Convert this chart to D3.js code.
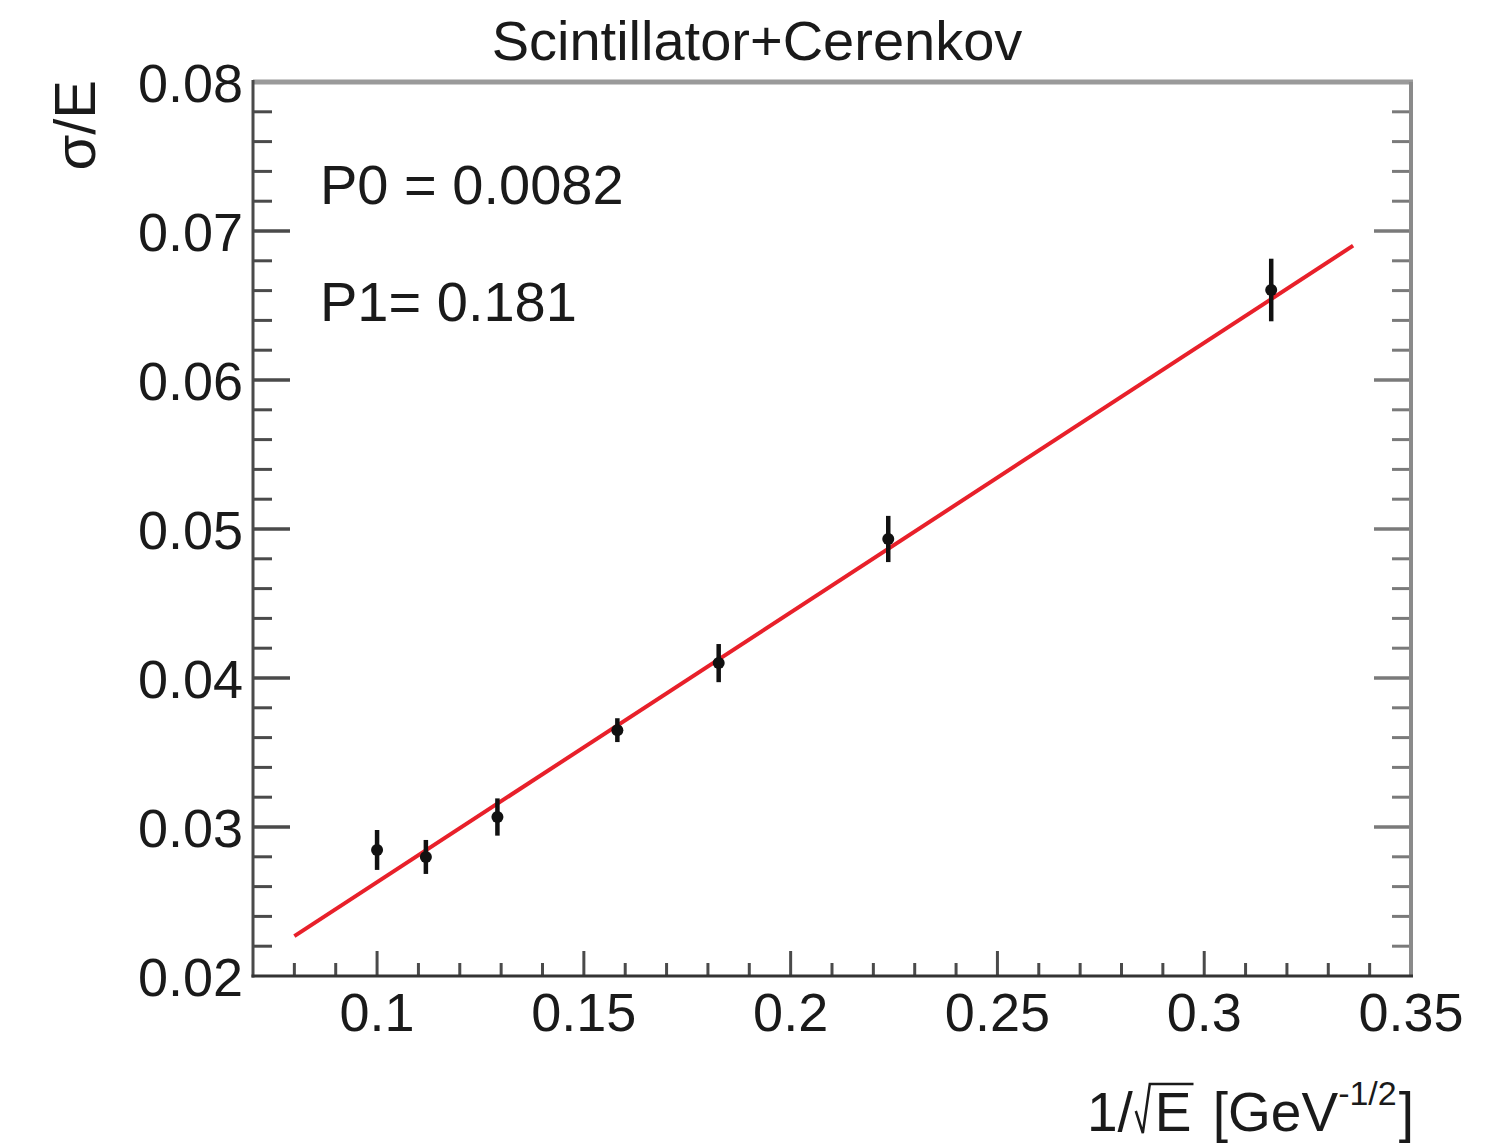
<!DOCTYPE html>
<html>
<head>
<meta charset="utf-8">
<script src="https://cdn.jsdelivr.net/npm/d3@7"></script>
<style>
  html, body { margin: 0; padding: 0; background: #fff; }
  svg { display: block; }
  text { font-family: "Liberation Sans", Arial, Helvetica, sans-serif; fill: #1a1a1a; }
</style>
</head>
<body>
<svg id="chart" width="1511" height="1147"></svg>
<script>
// ---- data ----
const energiesGeV = [100, 80, 60, 40, 30, 20, 10];
const xValues = [0.1000, 0.1118, 0.1291, 0.1581, 0.1826, 0.2236, 0.3162];   // 1/sqrt(E)
const yValues = [0.02846, 0.02799, 0.03067, 0.03650, 0.04100, 0.04933, 0.06604];
const yErrors = [0.00134, 0.00114, 0.00125, 0.00080, 0.00128, 0.00155, 0.00210];
const fitP0 = 0.0082;
const fitP1 = 0.181;
const fitRange = [0.08, 0.336];
const xMajorTicks = [0.1, 0.15, 0.2, 0.25, 0.3, 0.35];
const yMajorTicks = [0.02, 0.03, 0.04, 0.05, 0.06, 0.07, 0.08];
const titleText = "Scintillator+Cerenkov";
const paramLabels = ["P0 = 0.0082", "P1= 0.181"];

// ---- layout ----
const L = 253, R = 1411, T = 82, B = 976;
const svg = d3.select("#chart");
const x = d3.scaleLinear().domain([0.07, 0.35]).range([L, R]);
const y = d3.scaleLinear().domain([0.02, 0.08]).range([B, T]);

const axisColor = "#4a4a4a";

// minor ticks
const xMinor = d3.range(0, 29).map(i => +(0.07 + i * 0.01).toFixed(3)).filter(v => v > 0.07 && v <= 0.35);
const yMinor = d3.range(0, 31).map(i => +(0.02 + i * 0.002).toFixed(4)).filter(v => v > 0.02 && v < 0.08);

// X axis ticks (bottom, inward)
const gx = svg.append("g");
gx.selectAll("line.minor").data(xMinor).join("line")
  .attr("x1", d => x(d)).attr("x2", d => x(d))
  .attr("y1", B).attr("y2", d => B - (xMajorTicks.some(m => Math.abs(m - d) < 1e-6) ? 25 : 13))
  .attr("stroke", axisColor).attr("stroke-width", 3);

// Y axis ticks (left and right, inward)
const isYMajor = d => yMajorTicks.some(m => Math.abs(m - d) < 1e-6);
const yAll = yMinor.concat(yMajorTicks.filter(v => v > 0.02 && v < 0.08));
svg.append("g").selectAll("line").data(yAll).join("line")
  .attr("x1", L).attr("x2", d => L + (isYMajor(d) ? 37 : 19))
  .attr("y1", d => y(d)).attr("y2", d => y(d))
  .attr("stroke", axisColor).attr("stroke-width", 3);
svg.append("g").selectAll("line").data(yAll).join("line")
  .attr("x1", R).attr("x2", d => R - (isYMajor(d) ? 37 : 19))
  .attr("y1", d => y(d)).attr("y2", d => y(d))
  .attr("stroke", "#7a7a7a").attr("stroke-width", 3);

// frame
svg.append("line").attr("x1", L).attr("x2", R + 2).attr("y1", T).attr("y2", T)
  .attr("stroke", "#9a9a9a").attr("stroke-width", 5);
svg.append("line").attr("x1", R).attr("x2", R).attr("y1", T).attr("y2", B)
  .attr("stroke", "#8a8a8a").attr("stroke-width", 4);
svg.append("line").attr("x1", L).attr("x2", L).attr("y1", T - 2).attr("y2", B + 1.5)
  .attr("stroke", axisColor).attr("stroke-width", 3);
svg.append("line").attr("x1", L - 1.5).attr("x2", R + 2).attr("y1", B).attr("y2", B)
  .attr("stroke", "#333", ).attr("stroke-width", 3);

// tick labels
svg.append("g").selectAll("text").data(xMajorTicks).join("text")
  .attr("x", d => x(d)).attr("y", 1031)
  .attr("text-anchor", "middle").attr("font-size", 54)
  .text(d => d3.format("")(d));
svg.append("g").selectAll("text").data(yMajorTicks).join("text")
  .attr("x", 243).attr("y", d => y(d) + 20)
  .attr("text-anchor", "end").attr("font-size", 54)
  .text(d => d3.format(".2f")(d));

// fit line
svg.append("path")
  .datum(fitRange)
  .attr("d", d3.line().x(d => x(d)).y(d => y(fitP0 + fitP1 * d)))
  .attr("stroke", "#e8202a").attr("stroke-width", 4).attr("fill", "none");

// data points with error bars
const pts = xValues.map((v, i) => ({ x: v, y: yValues[i], e: yErrors[i] }));
svg.append("g").selectAll("line").data(pts).join("line")
  .attr("x1", d => x(d.x)).attr("x2", d => x(d.x))
  .attr("y1", d => y(d.y - d.e)).attr("y2", d => y(d.y + d.e))
  .attr("stroke", "#111").attr("stroke-width", 4.5);
svg.append("g").selectAll("circle").data(pts).join("circle")
  .attr("cx", d => x(d.x)).attr("cy", d => y(d.y)).attr("r", 6)
  .attr("fill", "#111");

// title
svg.append("text").attr("x", 757).attr("y", 60).attr("text-anchor", "middle")
  .attr("font-size", 56).text(titleText);

// parameter labels
svg.append("text").attr("x", 320).attr("y", 204).attr("font-size", 56).text(paramLabels[0]);
svg.append("text").attr("x", 320).attr("y", 321).attr("font-size", 56).text(paramLabels[1]);

// y axis title
svg.append("text").attr("transform", "translate(95,80) rotate(-90)")
  .attr("text-anchor", "end").attr("font-size", 58).text("σ/E");

// x axis title: 1/√E [GeV^-1/2]
const baseY = 1131;
const xt = svg.append("text").attr("y", baseY).attr("font-size", 55);
xt.append("tspan").text("1/");
const sqrtSpan = xt.append("tspan").attr("dx", 22).text("E");
xt.append("tspan").attr("dx", 6).text(" [GeV");
xt.append("tspan").attr("font-size", 34).attr("dy", -26).text("-1/2");
xt.append("tspan").attr("dy", 26).attr("dx", 2).text("]");
const bb = xt.node().getBBox();
xt.attr("x", 1414 - bb.width);
// radical sign drawn as path
const eBox = sqrtSpan.node().getBBox();
const ex = eBox.x, eTop = baseY - 43;
svg.append("path")
  .attr("d", `M${ex - 19},${baseY - 20} L${ex - 12},${baseY + 2} L${ex - 5},${eTop - 4} L${ex + eBox.width + 2},${eTop - 4}`)
  .attr("fill", "none").attr("stroke", "#1a1a1a").attr("stroke-width", 2.5);
</script>
</body>
</html>
